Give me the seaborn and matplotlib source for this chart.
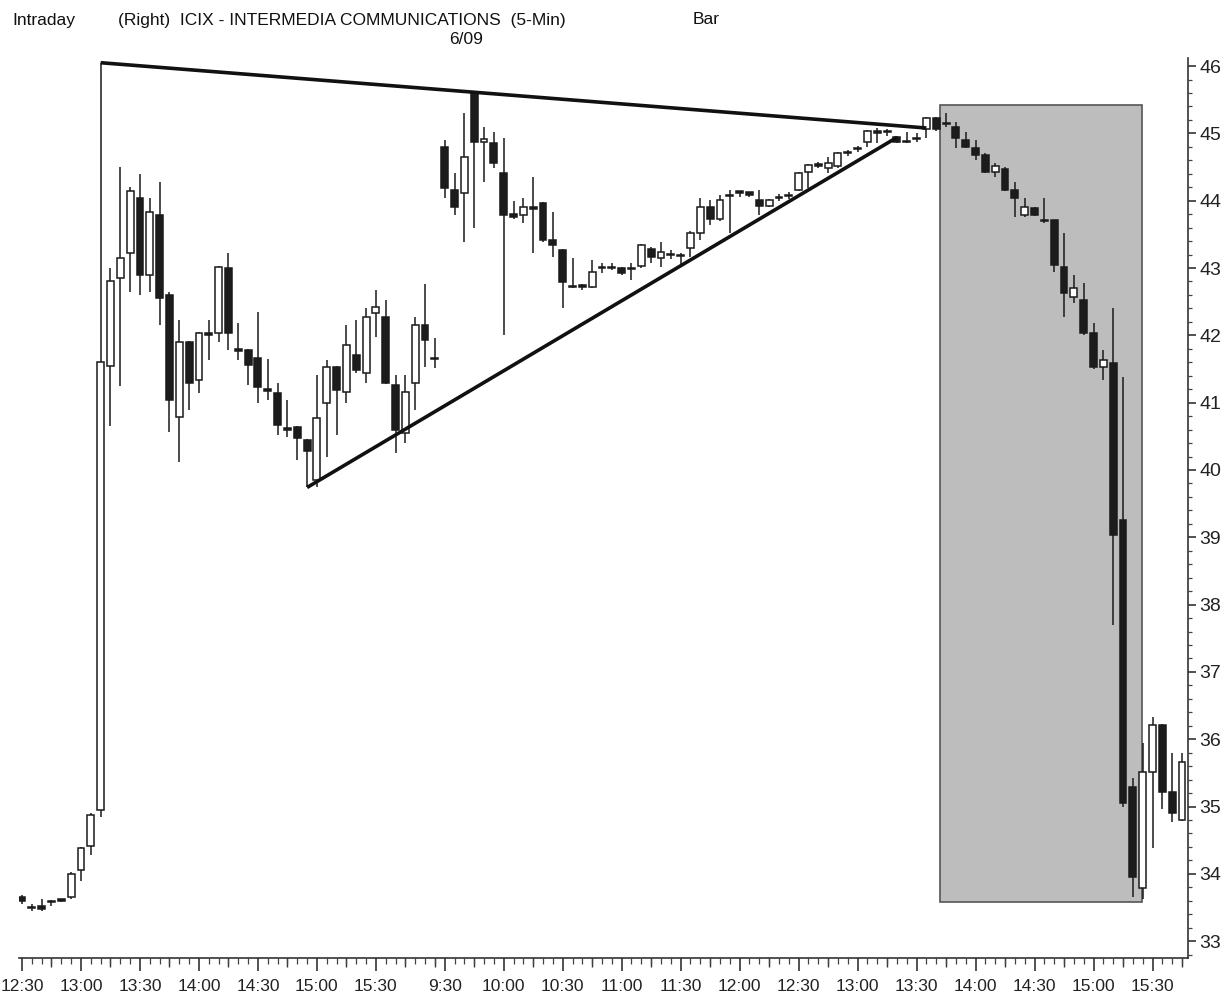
import matplotlib
matplotlib.use("Agg")
import matplotlib.pyplot as plt
import seaborn as sns
import numpy as np
import pandas as pd
from matplotlib.patches import Rectangle

# 5-min bars: 6/08 from 12:30 to 16:00, 6/09 from 9:30 to 15:45
day1_times = pd.date_range("2000-06-08 12:30", "2000-06-08 16:00", freq="5min")
day2_times = pd.date_range("2000-06-09 09:30", "2000-06-09 15:45", freq="5min")
times = list(day1_times) + list(day2_times)

opens = [33.65, 33.50, 33.52, 33.60, 33.62, 33.65, 34.05, 34.42, 34.95, 41.55,
         42.85, 43.22, 44.04, 42.90, 43.79, 42.60, 40.78, 41.90, 41.33, 42.03,
         42.03, 43.00, 41.80, 41.78, 41.66, 41.20, 41.14, 40.63, 40.64, 40.44,
         39.85, 40.99, 41.53, 41.16, 41.71, 41.44, 42.33, 42.27, 41.26, 40.55,
         41.29, 42.15, 41.67,
         44.80, 44.16, 44.11, 45.60, 44.87, 44.85, 44.41, 43.80, 43.79, 43.90,
         43.96, 43.42, 43.27, 42.74, 42.75, 42.72, 43.02, 43.01, 43.00, 42.98,
         43.03, 43.28, 43.15, 43.20, 43.19, 43.30, 43.52, 43.90, 43.73, 44.07,
         44.13, 44.13, 44.01, 43.92, 44.05, 44.08, 44.16, 44.43, 44.54, 44.48,
         44.51, 44.72, 44.78, 44.87, 45.04, 45.03, 44.94, 44.89, 44.92, 45.06,
         45.23, 45.16, 45.09, 44.90, 44.78, 44.68, 44.43, 44.47, 44.16, 43.79,
         43.89, 43.72, 43.71, 43.01, 42.57, 42.52, 42.03, 41.53, 41.59, 39.25,
         35.29, 33.79, 35.51, 36.21, 35.21, 34.80]
highs = [33.68, 33.55, 33.63, 33.61, 33.63, 34.03, 34.40, 34.90, 46.05, 43.00,
         44.50, 44.20, 44.40, 44.04, 44.28, 42.65, 42.23, 41.92, 42.05, 42.23,
         43.03, 43.22, 42.18, 41.80, 42.34, 41.65, 41.29, 41.04, 40.66, 40.46,
         41.41, 41.63, 41.55, 42.15, 42.23, 42.40, 42.67, 42.52, 41.41, 41.41,
         42.27, 42.76, 41.96,
         44.90, 44.41, 45.30, 45.62, 45.09, 45.02, 44.93, 44.00, 44.04, 44.35,
         43.98, 43.83, 43.28, 43.15, 42.76, 43.12, 43.08, 43.08, 43.02, 43.07,
         43.36, 43.31, 43.38, 43.27, 43.22, 43.55, 44.04, 44.01, 44.08, 44.16,
         44.13, 44.13, 44.16, 44.03, 44.10, 44.13, 44.43, 44.55, 44.58, 44.65,
         44.73, 44.76, 44.82, 45.05, 45.08, 45.06, 44.96, 45.02, 45.00, 45.25,
         45.25, 45.30, 45.17, 45.02, 44.90, 44.71, 44.56, 44.50, 44.28, 44.04,
         43.90, 44.04, 43.72, 43.52, 42.89, 42.78, 42.18, 41.78, 42.40, 41.38,
         35.42, 35.94, 36.33, 36.22, 35.79, 35.79]
lows = [33.55, 33.45, 33.45, 33.52, 33.58, 33.63, 33.90, 34.28, 34.85, 40.65,
        41.25, 42.65, 42.60, 42.64, 42.15, 40.56, 40.12, 40.89, 41.14, 41.63,
        41.90, 41.78, 41.63, 41.26, 41.00, 41.04, 40.52, 40.49, 40.15, 39.74,
        39.74, 40.19, 40.52, 41.00, 41.44, 41.29, 41.97, 41.28, 40.25, 40.40,
        40.89, 41.53, 41.51,
        44.04, 43.79, 43.38, 43.59, 44.28, 44.48, 42.00, 43.73, 43.67, 43.22,
        43.38, 43.16, 42.40, 42.70, 42.68, 42.70, 42.92, 42.97, 42.90, 42.82,
        43.00, 43.07, 43.01, 43.14, 43.01, 43.16, 43.41, 43.64, 43.70, 43.52,
        44.05, 44.06, 43.79, 43.90, 44.00, 44.02, 44.14, 44.19, 44.48, 44.41,
        44.49, 44.66, 44.73, 44.80, 44.86, 44.96, 44.86, 44.86, 44.87, 44.93,
        45.04, 45.09, 44.78, 44.78, 44.60, 44.41, 44.35, 44.14, 43.76, 43.76,
        43.77, 43.67, 42.94, 42.27, 42.48, 42.00, 41.50, 41.33, 37.69, 35.00,
        33.65, 33.62, 34.38, 34.97, 34.77, 34.78]
closes = [33.60, 33.49, 33.48, 33.58, 33.60, 34.00, 34.38, 34.87, 41.60, 42.80,
          43.15, 44.15, 42.90, 43.83, 42.55, 41.04, 41.90, 41.29, 42.03, 42.00,
          43.01, 42.03, 41.77, 41.56, 41.23, 41.18, 40.67, 40.60, 40.47, 40.28,
          40.77, 41.53, 41.19, 41.85, 41.48, 42.27, 42.42, 41.29, 40.59, 41.16,
          42.15, 41.93, 41.65,
          44.19, 43.90, 44.65, 44.87, 44.92, 44.56, 43.79, 43.76, 43.90, 43.88,
          43.41, 43.34, 42.79, 42.72, 42.72, 42.94, 43.00, 43.00, 42.92, 43.00,
          43.34, 43.16, 43.24, 43.19, 43.18, 43.52, 43.90, 43.73, 44.01, 44.09,
          44.12, 44.09, 43.92, 44.01, 44.04, 44.07, 44.41, 44.53, 44.51, 44.56,
          44.71, 44.71, 44.77, 45.03, 45.00, 45.02, 44.87, 44.87, 44.91, 45.23,
          45.06, 45.14, 44.93, 44.80, 44.68, 44.43, 44.51, 44.16, 44.04, 43.90,
          43.79, 43.70, 43.04, 42.63, 42.70, 42.03, 41.53, 41.63, 39.03, 35.05,
          33.95, 35.51, 36.21, 35.21, 34.90, 35.66]

# trendlines drawn on the chart (bar index, price)
upper_line = [(8, 46.05), (92, 45.08)]
lower_line = [(29, 39.74), (89, 44.94)]
# shaded zone (bar index range, price range)
zone_bars = (93.4, 113.9)
zone_prices = (33.58, 45.42)

df = pd.DataFrame({"time": times, "open": opens, "high": highs,
                   "low": lows, "close": closes})
df["idx"] = np.arange(len(df))
df["up"] = df["close"] >= df["open"]

sns.set_theme(style="ticks")
plt.rcParams["font.family"] = ["Liberation Sans", "DejaVu Sans"]

W, H = 1228, 1002
fig = plt.figure(figsize=(W / 100, H / 100), dpi=100)
ax = fig.add_axes([19 / W, 1 - 958 / H, (1188 - 19) / W, (958 - 58) / H])

ax.add_patch(Rectangle((zone_bars[0], zone_prices[0]), zone_bars[1] - zone_bars[0],
                       zone_prices[1] - zone_prices[0], facecolor="#bdbdbd",
                       edgecolor="#555555", lw=1.2, zorder=0))

ax.vlines(df["idx"], df["low"], df["high"], color="#1a1a1a", lw=1.1, zorder=2)
body_lo = np.minimum(df["open"], df["close"])
body_h = np.maximum(np.abs(df["close"] - df["open"]), 0.02)
face = np.where(df["up"], "white", "#1c1c1c")
ax.bar(df["idx"], body_h, bottom=body_lo, width=0.7, color=face,
       edgecolor="#1a1a1a", linewidth=1.1, zorder=3)

for line in (upper_line, lower_line):
    xs, ys = zip(*line)
    ax.plot(xs, ys, color="#111111", lw=2.6, solid_capstyle="butt", zorder=4)

ax.set_xlim(-0.305, 118.61)
ax.set_ylim(32.75, 46.12)

# right price axis
ax.yaxis.tick_right()
ax.set_yticks(range(33, 47))
ax.set_yticks(np.arange(32.8, 46.1, 0.2), minor=True)
ax.tick_params(axis="y", which="major", direction="out", length=6, width=1.1,
               pad=2, labelsize=14, colors="#222222")
ax.tick_params(axis="y", which="minor", direction="out", length=3, width=0.9,
               color="#444444")

# time axis
label_pos = [i for i, t in enumerate(times) if t.minute in (0, 30) and t.hour < 16]
label_txt = [f"{t.hour}:{t.minute:02d}" for t in times if t.minute in (0, 30) and t.hour < 16]
mid_pos = [i for i, t in enumerate(times)
           if (t.minute in (15, 45)) or (t.hour == 16)]
ax.set_xticks(label_pos)
ax.set_xticklabels(label_txt)
ax.set_xticks(df["idx"], minor=True)
ax.tick_params(axis="x", which="major", direction="out", length=9, width=1.1,
               pad=6, labelsize=12.5, colors="#222222")
ax.tick_params(axis="x", which="minor", direction="out", length=4, width=0.9,
               color="#444444")
sec = ax.secondary_xaxis("bottom")
sec.set_xticks(mid_pos)
sec.tick_params(axis="x", direction="out", length=6.5, width=1.0,
                labelbottom=False, color="#333333")
sec.spines["bottom"].set_visible(False)

for s in ("left", "top"):
    ax.spines[s].set_visible(False)
for s in ("bottom", "right"):
    ax.spines[s].set_color("#333333")
    ax.spines[s].set_linewidth(1.2)
ax.grid(False)

fig.text(12 / W, 1 - 20 / H, "Intraday", fontsize=12.5, va="center", ha="left", color="#111111")
fig.text(118 / W, 1 - 20 / H, "(Right)  ICIX - INTERMEDIA COMMUNICATIONS  (5-Min)",
         fontsize=12.5, va="center", ha="left", color="#111111")
fig.text(693 / W, 1 - 20 / H, "Bar", fontsize=12.5, va="center", ha="left", color="#111111")
fig.text(466 / W, 1 - 40 / H, "6/09", fontsize=12.5, va="center", ha="center", color="#111111")

fig.savefig("out.png", dpi=100, facecolor="white")
